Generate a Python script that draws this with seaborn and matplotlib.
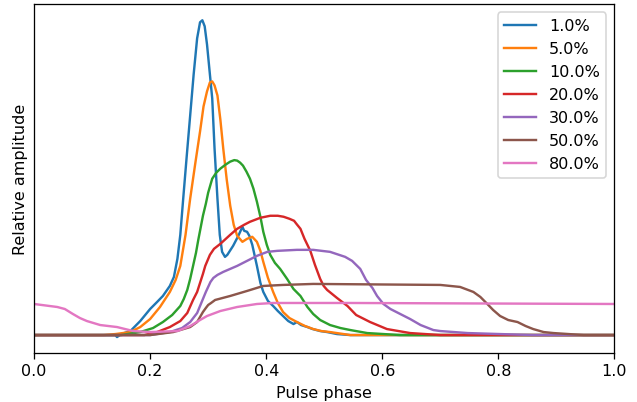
import numpy as np
import pandas as pd
import matplotlib
matplotlib.use("Agg")
import matplotlib.pyplot as plt
import seaborn as sns

# Pulse profiles (amplitude in arbitrary units)
labels = ["1.0%", "5.0%", "10.0%", "20.0%", "30.0%", "50.0%", "80.0%"]

phase_1 = [0.0, 0.14, 0.143, 0.150, 0.166, 0.183, 0.200, 0.212, 0.222, 0.234, 0.241, 0.247,
           0.252, 0.257, 0.263, 0.269, 0.275, 0.281, 0.286, 0.290, 0.294, 0.298, 0.302,
           0.307, 0.311, 0.316, 0.320, 0.324, 0.329, 0.333, 0.343, 0.352, 0.359, 0.362,
           0.367, 0.371, 0.376, 0.384, 0.390, 0.395, 0.403, 0.412, 0.420, 0.429, 0.438,
           0.447, 0.453, 0.460, 0.471, 0.480, 0.493, 0.505, 0.522, 0.545, 1.0]
amp_1 = [0, 0, -2, 1, 4, 14, 26, 33, 39, 49, 58, 76,
         100, 136, 178, 219, 260, 296, 312, 314, 308, 290, 266,
         236, 186, 136, 100, 83, 78, 80, 89, 99, 108, 104,
         103, 99, 90, 69, 52, 43, 34, 29, 24, 19, 14,
         11, 13, 10, 8, 6, 4, 3, 1, 0, 0]

phase_5 = [0.0, 0.12, 0.14, 0.166, 0.183, 0.200, 0.217, 0.234, 0.244, 0.252, 0.261, 0.269,
           0.278, 0.286, 0.292, 0.298, 0.303, 0.307, 0.311, 0.316, 0.321, 0.326, 0.332,
           0.338, 0.344, 0.350, 0.359, 0.367, 0.376, 0.384, 0.390, 0.395, 0.403, 0.412,
           0.420, 0.429, 0.440, 0.453, 0.467, 0.481, 0.495, 0.510, 0.545, 1.0]
amp_5 = [0, 0, 1, 3, 8, 16, 28, 43, 55, 69, 100, 136,
         172, 203, 228, 243, 252, 253, 249, 239, 215, 186, 155,
         129, 110, 99, 93, 96, 98, 93, 84, 73, 57, 43,
         32, 23, 17, 13, 9, 6, 4, 3, 0, 0]

phase_10 = [0.0, 0.15, 0.183, 0.205, 0.222, 0.238, 0.252, 0.258, 0.264, 0.269, 0.274, 0.279,
            0.283, 0.287, 0.291, 0.296, 0.300, 0.307, 0.314, 0.321, 0.330, 0.338, 0.345,
            0.350, 0.355, 0.360, 0.366, 0.372, 0.378, 0.384, 0.390, 0.395, 0.401, 0.407,
            0.415, 0.424, 0.436, 0.447, 0.459, 0.471, 0.481, 0.493, 0.510, 0.528, 0.545,
            0.574, 0.631, 1.0]
amp_10 = [0, 0, 3, 7, 13, 20, 29, 36, 45, 56, 69, 82,
          95, 107, 119, 131, 142, 156, 162, 166, 170, 173, 174.5,
          174, 172, 169, 163, 156, 146, 133, 118, 103, 90, 80,
          72, 66, 56, 46, 39, 28, 21, 15, 10, 7, 5,
          2, 0, 0]

phase_20 = [0.0, 0.19, 0.212, 0.234, 0.252, 0.264, 0.274, 0.281, 0.286, 0.291, 0.295, 0.303,
            0.310, 0.321, 0.338, 0.350, 0.362, 0.372, 0.390, 0.407, 0.420, 0.430, 0.440,
            0.448, 0.452, 0.459, 0.466, 0.471, 0.476, 0.484, 0.493, 0.499, 0.505, 0.522,
            0.540, 0.555, 0.579, 0.608, 0.648, 0.7, 1.0]
amp_20 = [0, 0, 3, 8, 14, 22, 35, 43, 52, 61, 69, 80,
          86, 91, 100, 106, 110, 113, 117, 119, 119, 118, 116,
          114, 111, 106, 96, 90, 84, 70, 56, 49, 45, 37,
          29, 20, 13, 6, 2, 0, 0]

phase_30 = [0.0, 0.2, 0.234, 0.255, 0.269, 0.281, 0.291, 0.296, 0.300, 0.304, 0.309, 0.316,
            0.326, 0.350, 0.367, 0.384, 0.402, 0.419, 0.453, 0.481, 0.510, 0.536, 0.548,
            0.562, 0.572, 0.583, 0.591, 0.602, 0.614, 0.631, 0.648, 0.666, 0.688, 0.700,
            0.747, 0.803, 0.860, 1.0]
amp_30 = [0, 0, 3, 7, 13, 22, 36, 43, 48, 53, 57, 60,
          63, 69, 74, 79, 83, 84, 85, 85, 83, 78, 74,
          66, 55, 47, 39, 31, 26, 21, 16, 10, 5, 4,
          2, 1, 0, 0]

phase_50 = [0.0, 0.2, 0.240, 0.269, 0.281, 0.286, 0.291, 0.296, 0.300, 0.305, 0.312, 0.338,
            0.367, 0.395, 0.429, 0.481, 0.700, 0.734, 0.757, 0.769, 0.781, 0.791, 0.803,
            0.817, 0.833, 0.847, 0.860, 0.878, 0.895, 0.947, 1.0]
amp_50 = [0, 0, 3, 8, 13, 18, 23, 27, 30, 32, 35, 39,
          44, 49, 50, 51, 50, 48, 43, 38, 31, 25, 19,
          15, 13, 9, 6, 3, 2, 0, 0]

phase_80 = [0.0, 0.040, 0.053, 0.067, 0.079, 0.091, 0.114, 0.143, 0.171, 0.200, 0.247, 0.269,
            0.286, 0.298, 0.321, 0.350, 0.384, 0.412, 0.545, 1.0]
amp_80 = [31, 28, 26, 21, 17, 14, 10, 8, 4, 3, 4, 9,
          15, 19, 24, 28, 31, 32, 32, 31]

phases = [phase_1, phase_5, phase_10, phase_20, phase_30, phase_50, phase_80]
amps = [amp_1, amp_5, amp_10, amp_20, amp_30, amp_50, amp_80]

frames = []
for lab, ph, am in zip(labels, phases, amps):
    frames.append(pd.DataFrame({"phase": ph, "amp": am, "level": lab}))
df = pd.concat(frames, ignore_index=True)

# the reference looks like a default matplotlib figure saved at ~115 dpi
DPI = 115
fig, ax = plt.subplots(figsize=(637.4 / DPI, 402.4 / DPI), dpi=DPI)
fig.subplots_adjust(left=0.0534, right=0.964, bottom=0.122, top=0.988)

sns.lineplot(data=df, x="phase", y="amp", hue="level", hue_order=labels,
             palette=sns.color_palette("tab10", len(labels)), sort=False,
             estimator=None, linewidth=1.5, ax=ax)

ax.set_xlim(0, 1)
ax.set_yticks([])
ax.set_xlabel("Pulse phase")
ax.set_ylabel("Relative amplitude")

handles, _ = ax.get_legend_handles_labels()
ax.legend(handles, labels, loc="upper right")

fig.savefig("out.png", dpi=DPI)
